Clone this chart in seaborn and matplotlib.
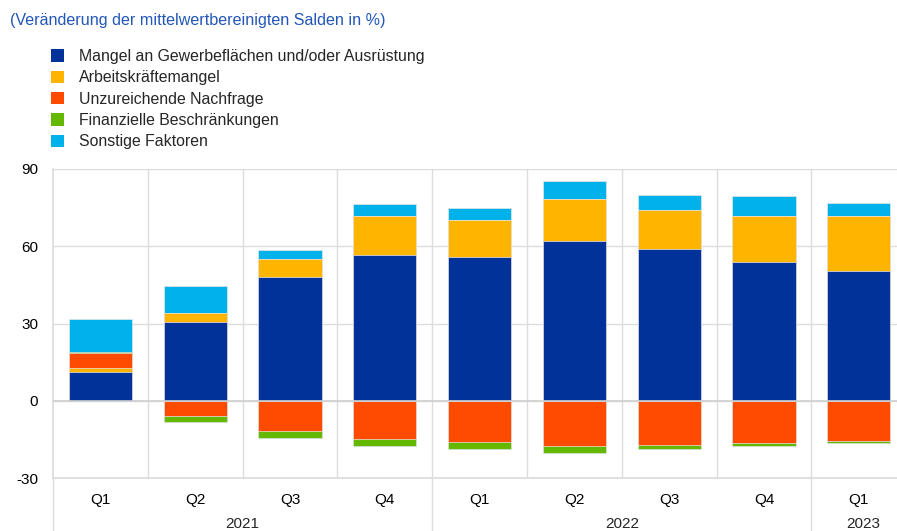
import numpy as np
import pandas as pd
import matplotlib
matplotlib.use("Agg")
import matplotlib.pyplot as plt
import seaborn as sns
from matplotlib.patches import Patch
from matplotlib.transforms import blended_transform_factory

sns.set_theme(style="white")
plt.rcParams["font.family"] = ["Liberation Sans", "DejaVu Sans"]
plt.rcParams["axes.unicode_minus"] = False

# Daten
perioden = ["2021 Q1", "2021 Q2", "2021 Q3", "2021 Q4",
            "2022 Q1", "2022 Q2", "2022 Q3", "2022 Q4", "2023 Q1"]
quartale = ["Q1", "Q2", "Q3", "Q4", "Q1", "Q2", "Q3", "Q4", "Q1"]
jahre = ["2021", "2022", "2023"]

mangel_ausruestung = [11.1, 30.7, 47.9, 56.6, 55.9, 61.9, 59.1, 54.0, 50.5]
arbeitskraefte = [1.7, 3.4, 7.0, 15.3, 14.4, 16.5, 15.1, 17.6, 21.1]
nachfrage = [5.6, -6.1, -11.8, -15.0, -15.9, -17.6, -17.1, -16.6, -15.5]
finanziell = [0.5, -2.3, -2.7, -2.5, -2.9, -2.6, -1.8, -1.1, -0.9]
sonstige = [13.0, 10.4, 3.6, 4.5, 4.7, 7.0, 5.8, 7.8, 5.2]

namen = ["Mangel an Gewerbeflächen und/oder Ausrüstung", "Arbeitskräftemangel",
         "Unzureichende Nachfrage", "Finanzielle Beschränkungen", "Sonstige Faktoren"]
farben = ["#003299", "#FFB400", "#FF4B00", "#65B800", "#00B1EA"]
reihen = [mangel_ausruestung, arbeitskraefte, nachfrage, finanziell, sonstige]

# kumulierte Summen, positive und negative Teile getrennt
werte = np.array(reihen)
pos_cum = np.cumsum(np.clip(werte, 0, None), axis=0)
neg_cum = np.cumsum(np.clip(werte, None, 0), axis=0)

fig = plt.figure(figsize=(8.97, 5.31), dpi=100)
ax = fig.add_axes([53 / 897, 53 / 531, 844 / 897, 309 / 531])

# von oben nach unten zeichnen, damit die Segmente sichtbar bleiben
for i in reversed(range(len(reihen))):
    df = pd.DataFrame({"periode": perioden, "pos": pos_cum[i], "neg": neg_cum[i]})
    sns.barplot(data=df, x="periode", y="pos", order=perioden, color=farben[i],
                saturation=1, width=0.665, ax=ax, edgecolor="#e6e6e6", linewidth=0.5)
    sns.barplot(data=df, x="periode", y="neg", order=perioden, color=farben[i],
                saturation=1, width=0.665, ax=ax, edgecolor="#e6e6e6", linewidth=0.5)

gridfarbe = "#dcdcdc"
ax.set_ylim(-30, 90)
ax.set_yticks([-30, 0, 30, 60, 90])
ax.set_xlim(-0.5, -0.5 + 844 / 94.8)
ax.set_xticks(range(len(perioden)))
ax.set_xticklabels(quartale)
ax.set_xticks(np.arange(0.5, 8, 1), minor=True)
ax.grid(axis="y", which="major", color=gridfarbe, linewidth=1)
ax.grid(axis="x", which="minor", color=gridfarbe, linewidth=1)
ax.set_axisbelow(True)
ax.axhline(0, color="#cfcfcf", linewidth=1.2, zorder=5)
ax.tick_params(axis="both", which="both", length=0, labelsize=11, colors="#000000")
ax.tick_params(axis="x", pad=11)
ax.tick_params(axis="y", pad=10.8)
ax.set_xlabel("")
ax.set_ylabel("")
for s in ["top", "right"]:
    ax.spines[s].set_visible(False)
ax.spines["left"].set_color(gridfarbe)
ax.spines["bottom"].set_color(gridfarbe)

# Jahrestrenner und Jahresbeschriftungen
trans = blended_transform_factory(ax.transData, ax.transAxes)
for x in [-0.5, 3.5, 7.5]:
    ax.plot([x, x], [0, -53 / 309], color=gridfarbe, linewidth=1,
            transform=trans, clip_on=False)
for jahr, xpos in zip(jahre, [1.5, 5.5, 8.05]):
    ax.text(xpos, -46 / 309, jahr, transform=trans, ha="center", va="center", fontsize=11)

fig.text(10 / 897, 1 - 20 / 531, "(Veränderung der mittelwertbereinigten Salden in %)",
         color="#2256b8", fontsize=11.6, va="center", ha="left")

handles = [Patch(facecolor=f, edgecolor="none") for f in farben]
fig.legend(handles, namen, loc="upper left", bbox_to_anchor=(51 / 897, 1 - 49 / 531),
           frameon=False, fontsize=11.4, handlelength=0.8, handleheight=0.8,
           handletextpad=0.95, labelspacing=0.4, borderaxespad=0, borderpad=0)

fig.savefig("out.png", dpi=100)
